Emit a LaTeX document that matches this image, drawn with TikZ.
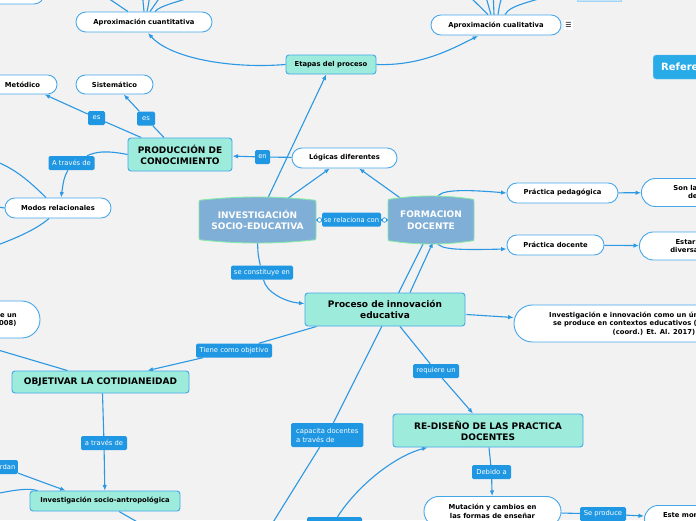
\documentclass[tikz,border=0pt]{standalone}
\usepackage{fontspec}
\setmainfont{DejaVu Sans}
\usetikzlibrary{arrows.meta,calc}
\definecolor{bgc}{HTML}{F2F2F2}
\definecolor{lineb}{HTML}{2B98E3}
\definecolor{nborder}{HTML}{45A7EA}
\definecolor{tealf}{HTML}{9DEBDB}
\definecolor{lblf}{HTML}{1F97E2}
\definecolor{invf}{HTML}{7FAED6}
\definecolor{invb}{HTML}{86E8A8}
\definecolor{reff}{HTML}{29ABE8}
\definecolor{pale}{HTML}{C8E6F8}
\pgfdeclarelayer{bg}\pgfdeclarelayer{edges}\pgfsetlayers{bg,edges,main}
\tikzset{
 wnode/.style={draw=nborder, fill=white, line width=0.9pt, inner sep=0pt, align=center, font=\fontsize{6.8}{8.5}\selectfont\bfseries},
 tnode/.style={draw=nborder, fill=tealf, line width=0.9pt, rounded corners=3pt, inner sep=0pt, align=center},
 bigtxt/.style={font=\fontsize{9}{11}\selectfont\bfseries},
 smalltxt/.style={font=\fontsize{6.8}{8.5}\selectfont\bfseries},
 lbl/.style={fill=lblf, text=white, rounded corners=1.5pt, inner sep=0pt, font=\fontsize{6.8}{9}\selectfont, minimum height=14pt},
 conn/.style={draw=lineb, line width=1.1pt},
 arr/.style={conn, -{Latex[length=5.5pt,width=4.5pt]}},
 barsty/.style={fill=invf, draw=invb, line width=0.9pt},
 bartext/.style={inner sep=0pt, align=center, text=white, font=\fontsize{9}{11.5}\selectfont\bfseries},
 ring/.style={circle, draw=lineb, fill=white, line width=0.8pt, inner sep=0pt, minimum size=4.5pt},
}
\begin{document}
\begin{tikzpicture}[x=1pt,y=-1pt]
\useasboundingbox (0,0) rectangle (696,520);
\clip (0,0) rectangle (696,520);
\begin{pgfonlayer}{bg}
\fill[bgc] (0,0) rectangle (696,520);
\end{pgfonlayer}

% barrel shapes
\filldraw[barsty] (199,203) .. controls (199,200) .. (202,200) .. controls (240,196) and (275,196) .. (313,200) .. controls (316,200) .. (316,203) -- (316,237) .. controls (316,240) .. (313,240) .. controls (275,244) and (240,244) .. (202,240) .. controls (199,240) .. (199,237) -- cycle;
\node[bartext, minimum width=117pt, minimum height=42pt] (inv) at (257.5,220) {INVESTIGACIÓN\\SOCIO-EDUCATIVA};
\filldraw[barsty] (388,202) .. controls (388,199) .. (391,199) .. controls (418,195) and (444,195) .. (471,199) .. controls (474,199) .. (474,202) -- (474,238) .. controls (474,241) .. (471,241) .. controls (444,245) and (418,245) .. (391,241) .. controls (388,241) .. (388,238) -- cycle;
\node[bartext, minimum width=86pt, minimum height=44pt] (form) at (431,220) {FORMACION\\DOCENTE};

% nodes
\node[wnode, rounded corners=9.9pt, minimum width=104pt, minimum height=20pt] (tl) at (-8,-6) {};
\node[draw=pale!70!nborder, fill=pale, minimum width=44pt, minimum height=14pt, inner sep=0pt] (tr) at (599,-6) {};
\node[wnode, rounded corners=9.9pt, minimum width=136pt, minimum height=20pt] (cuant) at (144,22) {Aproximación cuantitativa};
\node[wnode, rounded corners=9.9pt, minimum width=130pt, minimum height=20pt] (cual) at (496,25) {Aproximación cualitativa};
\node[fill=white, inner sep=0pt, minimum width=9pt, minimum height=10pt, font=\fontsize{7}{7}\selectfont] (menu) at (568.5,25) {☰};
\node[tnode, smalltxt, minimum width=90pt, minimum height=19pt] (etapas) at (331,64.5) {Etapas del proceso};
\node[fill=reff, draw=reff!70!white, rounded corners=3pt, anchor=west, minimum height=24pt, inner xsep=8pt, text=white, font=\fontsize{10}{12}\selectfont\bfseries] (refs) at (653,67) {Referencias};
\node[wnode, rounded corners=9.4pt, minimum width=69pt, minimum height=19pt] (met) at (22.5,84.5) {Metódico};
\node[wnode, rounded corners=9.4pt, minimum width=77pt, minimum height=19pt] (sis) at (114.5,84.5) {Sistemático};
\node[tnode, bigtxt, minimum width=104pt, minimum height=33pt] (prod) at (180,154.5) {PRODUCCIÓN DE\\CONOCIMIENTO};
\node[wnode, rounded corners=9.9pt, minimum width=105pt, minimum height=20pt] (log) at (344.5,158) {Lógicas diferentes};
\node[wnode, rounded corners=9.9pt, minimum width=106pt, minimum height=20pt] (modos) at (58,208) {Modos relacionales};
\node[wnode, rounded corners=9.9pt, minimum width=111pt, minimum height=20pt] (ped) at (562.5,193) {Práctica pedagógica};
\node[wnode, rounded corners=13.9pt, minimum width=140pt, minimum height=28pt, anchor=west] (son) at (641,192.5) {Son las actuaciones\\del profesor};
\node[wnode, rounded corners=9.9pt, minimum width=97pt, minimum height=20pt] (doc) at (555.5,245) {Práctica docente};
\node[wnode, rounded corners=13.9pt, minimum width=140pt, minimum height=28pt, anchor=west] (estar) at (639,246) {Estar atento a las\\diversas situaciones};
\node[tnode, bigtxt, minimum width=160pt, minimum height=33pt] (proc) at (385,309.5) {Proceso de innovación\\educativa};
\node[wnode, rounded corners=18.4pt, minimum width=280pt, minimum height=37pt] (inno) at (654,323.5) {Investigación e innovación como un único proceso que\\se produce en contextos educativos (Nieto Martín, J.\\(coord.) Et. Al. 2017)};
\node[wnode, rounded corners=18.4pt, minimum width=102pt, minimum height=37pt] (lp) at (-11,319.5) {Es parte de un\\(Jordán, 2008)};
\node[tnode, bigtxt, minimum width=177pt, minimum height=22pt] (obj) at (100.5,382) {OBJETIVAR LA COTIDIANEIDAD};
\node[tnode, smalltxt, minimum width=150pt, minimum height=20pt] (antro) at (105,501) {Investigación socio-antropológica};
\node[tnode, bigtxt, minimum width=190pt, minimum height=33pt] (redis) at (488,430.5) {RE-DISEÑO DE LAS PRACTICA\\DOCENTES};
\node[wnode, rounded corners=14.9pt, minimum width=137pt, minimum height=30pt, anchor=north] (mut) at (492.5,496) {Mutación y cambios en\\las formas de enseñar};
\node[wnode, rounded corners=13.9pt, minimum width=140pt, minimum height=28pt, anchor=north west] (este) at (644,505) {Este momento histórico de\\cambios};

% labels
\node[lbl, minimum width=17pt] (es1) at (96.5,118) {es};
\node[lbl, minimum width=18pt] (es2) at (146,118.5) {es};
\node[lbl, minimum width=15pt] (en) at (262.5,157) {en};
\node[lbl, minimum width=46pt] (atr1) at (71.5,163) {A través de};
\node[lbl, minimum width=59pt] (rel) at (351.5,219.5) {se relaciona con};
\node[ring] (r1) at (319.5,220) {};
\node[ring] (r2) at (384.5,220) {};
\node[lbl, minimum width=62pt] (cons) at (262,272.5) {se constituye en};
\node[lbl, minimum width=76pt] (tiene) at (234,350.5) {Tiene como objetivo};
\node[lbl, minimum width=46pt] (req) at (436,371) {requiere un};
\node[lbl, minimum width=46pt] (atr2) at (104,443) {a través de};
\node[lbl, minimum width=69pt, minimum height=24pt, align=left, inner xsep=5pt, anchor=west] (cap) at (291,435) {capacita docentes\\a través de};
\node[lbl, minimum width=39pt] (deb) at (491.5,472) {Debido a};
\node[lbl, minimum width=46pt] (sep) at (603,514) {Se produce};
\node[lbl, inner xsep=2.5pt, anchor=east] (abor) at (18,467) {abordan};
\node[lbl, minimum width=55pt, minimum height=14pt] (bot) at (334.5,524) {};

% free ends
\coordinate (fa1) at (96,-10);
\coordinate (fa2) at (142,-10);
\coordinate (fa3) at (150,-10);
\coordinate (fa4) at (165,-10);
\coordinate (fa5) at (215,-10);
\coordinate (fb1) at (463,-10);
\coordinate (fb2) at (484,-10);
\coordinate (fb3) at (493,-10);
\coordinate (fb4) at (505,-10);
\coordinate (fb5) at (570,-10);
\coordinate (m1) at (-8,160);
\coordinate (m2) at (-8,247);
\coordinate (m3) at (-8,206);
\coordinate (lc) at (-20,497);
\coordinate (bc) at (160,535);
\coordinate (capend) at (262,540);

\begin{pgfonlayer}{edges}
\draw[conn] (fa1) -- ($(cuant.north)+(-16,0)$);
\draw[conn] (fa2) -- (cuant.north);
\draw[conn] (fa3) .. controls (149,2) .. ($(cuant.north)+(3,0)$);
\draw[conn] (fa4) -- ($(cuant.north)+(6,0)$);
\draw[conn] (fa5) .. controls (185,0) and (160,5) .. ($(cuant.north)+(11,0)$);
\draw[conn] (fb1) -- ($(cual.north)+(-8,0)$);
\draw[conn] (fb2) -- ($(cual.north)+(-5,0)$);
\draw[conn] (fb3) -- ($(cual.north)+(-2,0)$);
\draw[conn] (fb4) .. controls (500,2) .. ($(cual.north)+(2,0)$);
\draw[conn] (fb5) .. controls (530,2) and (510,5) .. ($(cual.north)+(9,0)$);

\draw[arr] (inv) -- (etapas);
\draw[arr] (etapas.west) .. controls (230,69) and (170,58) .. ($(cuant.south)+(4,0.5)$);
\draw[arr] (etapas.east) .. controls (420,66) and (450,50) .. ($(cual.south)+(-18,0.5)$);
\draw[arr] (prod) -- (es1) -- (met);
\draw[arr] (prod) -- (es2) -- (sis);
\draw[arr] (log) -- (en) -- (prod);
\draw[conn] (prod.west) .. controls (105,150) and (95,152) .. (atr1);
\draw[arr] (atr1) .. controls (64,178) .. ($(modos.north)+(3,0)$);
\draw[conn] ($(modos.north)+(-12,0)$) .. controls (30,182) and (15,168) .. (m1);
\draw[conn] ($(modos.south)+(-9,0)$) .. controls (38,228) and (20,237) .. (m2);
\draw[conn] (m3) -- (modos.west);
\draw[conn] (inv.east) -- (form.west);
\draw[arr] (inv) -- (log);
\draw[arr] (form) -- (log);
\draw[arr] ($(form.north)+(6,0)$) .. controls (439,190) and (460,189) .. (ped.west);
\draw[arr] ($(form.south)+(6,0)$) .. controls (439,250) and (460,250) .. ($(doc.west)+(0,4)$);
\draw[arr] (ped) -- (son);
\draw[arr] (doc) -- (estar);
\draw[conn] (inv.south) .. controls (258,255) .. (cons);
\draw[arr] (cons) .. controls (266,292) and (285,302) .. ($(proc.west)+(0,-6)$);
\draw[conn] ($(form.south)+(-7,0)$) -- (cap) -- (capend);
\draw[arr] ($(proc.north)+(25,0)$) -- ($(form.south)+(2,0)$);
\draw[arr] ($(proc.east)+(1,5)$) -- ($(inno.west)+(0,-6)$);
\draw[arr] ($(proc.south west)+(12,0)$) -- (tiene) -- ($(obj.north)+(47,0)$);
\draw[arr] ($(proc.south)+(15,0)$) -- (req) -- ($(redis.north)+(-15,0)$);
\draw[conn] ($(obj.north)+(-33,0)$) -- ($(lp.south)+(-30,0)$);
\draw[arr] ($(obj.south)+(2,0)$) -- (atr2) -- (antro);
\draw[arr] (abor) -- ($(antro.north west)+(36,0)$);
\draw[conn] (lc) .. controls (5,492) and (25,487) .. ($(antro.north west)+(8,0)$);
\draw[conn] ($(antro.south)+(14,0)$) -- (bc);
\draw[arr] ($(redis.south)+(1,0)$) -- (deb) -- (mut);
\draw[arr] (mut) -- (sep) -- (este);
\draw[arr] ($(bot.north)+(3,0)$) .. controls (358,485) and (395,456) .. ($(redis.south west)+(35,0)$);
\end{pgfonlayer}
\end{tikzpicture}
\end{document}
